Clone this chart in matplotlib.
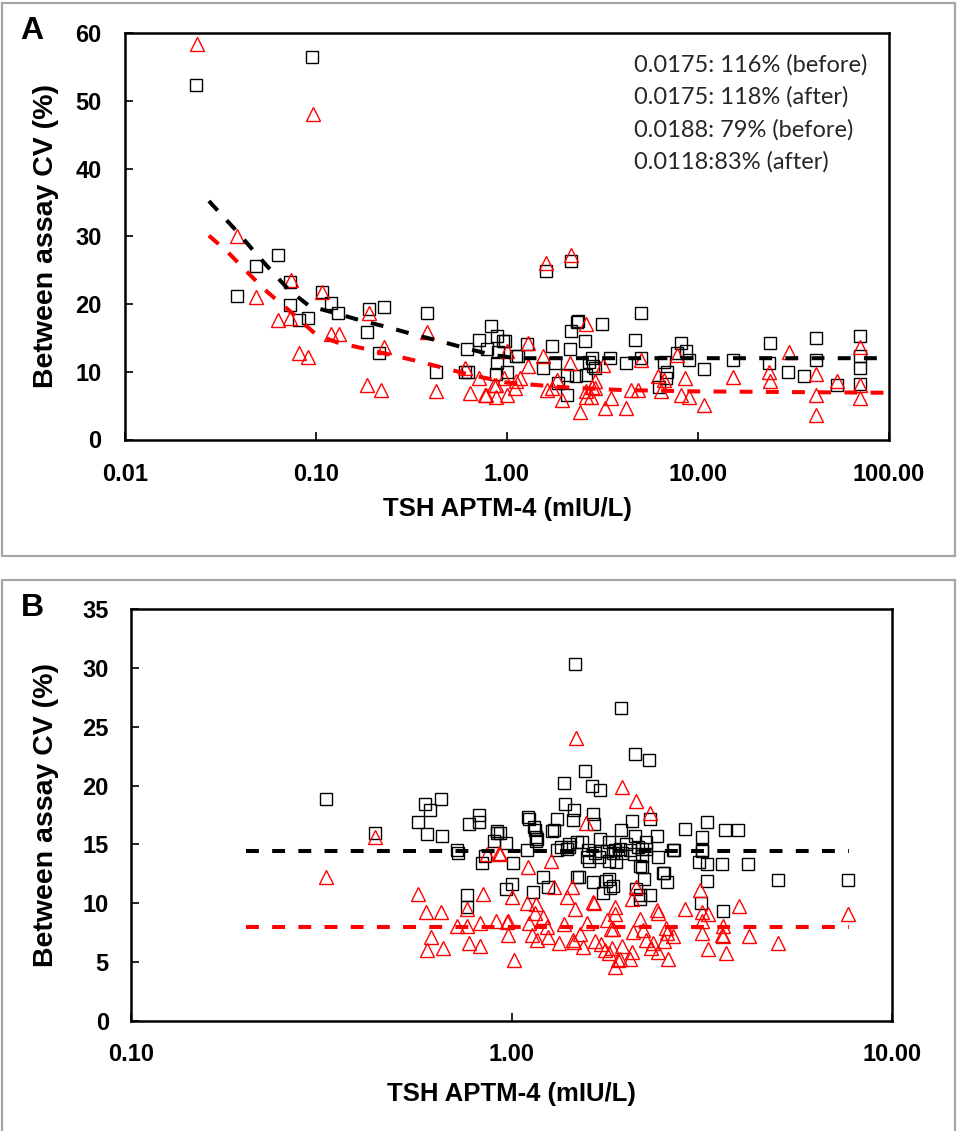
import numpy as np
import matplotlib
matplotlib.use("Agg")
import matplotlib.pyplot as plt
from matplotlib.patches import Rectangle

plt.rcParams['font.family'] = ['Liberation Sans', 'DejaVu Sans']

# ---- panel A data (before = black squares, after = red triangles) ----
a_before_x = [0.0235, 0.095, 0.0387, 0.0487, 0.063, 0.073, 0.073, 0.0815, 0.0906, 0.107,
              0.12, 0.13, 0.19, 0.226, 0.184, 0.215, 0.382, 0.426, 0.604, 0.628,
              0.617, 0.71, 0.783, 0.822, 0.891, 0.958, 0.883, 0.996, 0.877, 0.90,
              1.146, 1.267, 1.545, 1.71, 1.78, 2.13, 2.17, 2.32, 2.36, 2.55,
              2.05, 2.31, 2.6, 2.7, 2.82, 1.85, 2.05, 1.6, 2.17, 3.14,
              5.03, 4.68, 8.13, 8.63, 7.8, 3.47, 4.2, 5.03, 6.65, 10.7,
              2.8, 2.88, 6.92, 6.8, 6.27, 8.97, 15.3, 23.9, 23.4, 29.5,
              36.0, 41.5, 41.5, 53.2, 70.3, 70.3, 70.3, 70.7, 1.12, 0.98]
a_before_y = [52.3, 56.5, 21.2, 25.6, 27.3, 23.2, 19.9, 17.6, 18.0, 21.7,
              20.2, 18.6, 19.3, 19.5, 15.9, 12.7, 18.6, 10.0, 10.0, 10.0,
              13.3, 14.7, 13.3, 16.8, 15.3, 14.5, 11.3, 10.0, 9.6, 12.9,
              12.3, 14.1, 10.5, 13.75, 11.3, 13.3, 16.0, 17.3, 17.5, 14.5,
              9.55, 9.3, 9.55, 11.5, 10.8, 8.3, 6.6, 24.8, 26.3, 17.1,
              18.7, 14.7, 14.3, 13.0, 12.8, 12.0, 11.3, 12.0, 11.5, 10.4,
              12.0, 10.5, 10.0, 9.1, 7.8, 11.8, 11.8, 14.3, 11.3, 10.0,
              9.3, 15.0, 11.7, 8.1, 15.3, 12.3, 10.5, 8.2, 12.3, 14.6]

a_after_x = [0.0237, 0.096, 0.0388, 0.0487, 0.074, 0.063, 0.073, 0.0815, 0.0906, 0.108,
             0.12, 0.132, 0.19, 0.226, 0.186, 0.218, 0.382, 0.427, 0.604, 0.71,
             0.64, 0.78, 0.88, 1.0, 0.88, 1.12, 1.1, 1.29, 1.0, 1.29,
             1.17, 0.96, 0.85, 0.767, 1.545, 1.61, 1.71, 1.82, 1.93, 2.4,
             2.6, 2.6, 2.8, 1.6, 2.17, 5.03, 7.8, 8.6, 6.65, 6.2,
             4.83, 4.47, 3.51, 3.24, 4.2, 6.38, 8.13, 8.97, 10.7, 2.88,
             2.75, 2.88, 15.3, 29.8, 23.4, 23.9, 41.5, 41.5, 41.5, 53.2,
             70.3, 70.7, 70.7, 2.15, 3.2, 2.6]
a_after_y = [58.4, 48.0, 30.0, 21.1, 23.6, 17.7, 18.0, 12.8, 12.2, 21.7,
             15.6, 15.6, 18.7, 13.6, 8.1, 7.3, 15.8, 7.2, 10.5, 9.1,
             6.9, 6.6, 6.3, 6.6, 8.0, 8.6, 7.6, 14.25, 13.0, 10.8,
             9.1, 9.1, 8.1, 6.6, 12.3, 7.3, 7.6, 8.8, 5.85, 4.1,
             17.0, 6.3, 7.8, 26.1, 27.3, 11.8, 12.5, 9.1, 8.8, 9.3,
             7.3, 7.3, 6.1, 4.6, 4.6, 7.1, 6.6, 6.3, 5.1, 8.6,
             6.3, 7.6, 9.2, 12.9, 10.0, 8.6, 9.6, 6.6, 3.6, 8.6,
             13.7, 8.0, 6.1, 11.3, 11.0, 7.1]

# fitted trend lines
a_fit_before_x = [0.0275, 0.0383, 0.0473, 0.0583, 0.0726, 0.0923, 0.1245, 0.175, 0.236,
                  0.325, 0.448, 0.604, 0.832, 1.12, 96.4]
a_fit_before_y = [35.2, 30.8, 27.8, 24.9, 22.0, 19.7, 18.7, 17.5, 16.6,
                  15.5, 14.5, 13.5, 12.5, 12.0, 12.0]
a_fit_after_x = [0.0275, 0.0347, 0.044, 0.056, 0.0713, 0.1, 0.13, 0.186, 0.246,
                 0.325, 0.475, 0.63, 1.0, 2.0, 4.0, 10.0, 96.4]
a_fit_after_y = [30.1, 27.6, 24.6, 21.7, 19.2, 15.5, 14.3, 13.3, 12.5,
                 11.7, 10.5, 9.6, 8.4, 7.7, 7.3, 7.1, 6.9]

a_notes = ["0.0175: 116% (before)", "0.0175: 118% (after)",
           "0.0188: 79% (before)", "0.0118:83% (after)"]

# ---- panel B data ----
b_before_x = [0.325, 0.438, 0.594, 0.652, 0.611, 0.567, 0.598, 0.656, 0.717, 0.725,
              0.772, 0.823, 0.823, 0.914, 0.9, 0.97, 0.835, 0.85, 1.01, 1.0,
              0.97, 0.762, 0.762, 1.47, 1.94, 2.11, 2.3, 1.56, 1.37, 1.63,
              1.71, 1.38, 1.46, 1.45, 1.32, 1.106, 1.11, 1.148, 1.16, 1.16,
              1.28, 1.64, 1.65, 2.31, 2.07, 1.94, 2.11, 2.41, 2.85, 3.27,
              3.65, 3.94, 3.17, 0.93, 1.1, 1.396, 1.42, 1.53, 1.71, 1.80,
              1.87, 1.576, 1.6, 1.7, 1.72, 1.21, 1.49, 1.635, 1.80, 1.85,
              1.74, 1.245, 1.14, 3.11, 3.27, 3.57, 4.19, 3.17, 2.65, 3.27,
              5.02, 7.67, 3.15, 3.59, 2.5, 2.56, 2.23, 2.18, 2.13, 2.18,
              2.18, 2.31, 2.42, 2.05, 2.1, 2.15, 2.2, 2.25, 2.0, 1.95,
              1.15, 1.29, 1.17, 0.918, 1.32, 1.35, 1.42, 1.49, 1.59, 1.66,
              1.5, 1.81, 1.93, 1.85, 1.78, 1.88, 1.80, 1.77, 2.26, 2.2,
              2.2, 2.52, 2.67, 3.16]
b_before_y = [18.9, 16.0, 18.4, 18.9, 17.9, 16.9, 15.9, 15.7, 14.5, 14.3,
              16.75, 17.5, 16.9, 16.1, 15.25, 15.1, 13.4, 14.0, 13.4, 11.6,
              11.25, 10.7, 9.7, 30.3, 26.6, 22.7, 22.2, 21.2, 20.2, 20.0,
              19.6, 18.4, 17.9, 17.1, 17.2, 17.3, 17.2, 16.5, 15.6, 15.3,
              16.1, 17.6, 16.75, 17.2, 17.0, 16.2, 15.7, 15.7, 16.3, 16.9,
              16.2, 16.2, 15.6, 16.0, 14.5, 14.6, 15.0, 15.2, 15.5, 15.2,
              14.5, 13.9, 13.6, 13.9, 14.4, 12.2, 12.2, 11.8, 12.1, 11.5,
              10.9, 11.4, 10.96, 13.5, 13.3, 13.3, 13.3, 14.4, 14.5, 11.9,
              12.0, 12.0, 10.0, 9.35, 12.6, 11.8, 12.1, 13.2, 11.25, 10.7,
              10.4, 10.7, 13.9, 14.5, 14.2, 14.8, 14.0, 14.6, 15.0, 14.3,
              16.2, 16.2, 15.5, 16.0, 14.5, 14.8, 14.8, 15.2, 14.5, 14.3,
              12.2, 11.3, 14.6, 14.3, 14.4, 13.5, 13.6, 11.9, 15.2, 14.6,
              13.1, 12.6, 14.5, 14.5]

b_after_x = [0.325, 0.438, 0.569, 0.596, 0.653, 0.614, 0.598, 0.659, 0.84, 0.721,
             0.762, 0.762, 0.826, 0.773, 0.826, 0.909, 0.98, 0.98, 1.017, 0.86,
             0.925, 1.48, 1.95, 2.12, 2.31, 1.57, 1.0, 1.1, 1.16, 1.15,
             1.21, 1.296, 1.396, 1.44, 1.47, 1.65, 1.58, 1.37, 1.25, 1.33,
             1.17, 1.13, 0.975, 1.51, 1.46, 1.54, 1.66, 1.72, 1.76, 1.80,
             1.84, 1.87, 1.93, 1.78, 1.87, 1.85, 1.87, 1.95, 2.07, 2.05,
             2.09, 2.18, 2.13, 2.07, 2.22, 2.26, 2.33, 2.41, 2.43, 2.51,
             2.58, 2.66, 2.55, 2.86, 3.13, 3.16, 3.16, 3.17, 3.29, 3.28,
             3.59, 3.59, 3.66, 3.95, 4.22, 5.02, 7.67, 1.27, 1.106, 0.93,
             1.64, 1.24, 1.11, 1.45, 1.9, 2.35, 2.56, 2.43, 3.57, 1.83]
b_after_y = [12.2, 15.6, 10.8, 9.3, 9.3, 7.1, 6.0, 6.2, 10.8, 8.1,
             8.1, 9.5, 8.3, 6.6, 6.4, 8.5, 8.5, 7.3, 5.2, 14.2,
             14.3, 24.0, 19.9, 18.7, 17.7, 16.8, 10.5, 10.0, 9.9, 9.2,
             8.8, 11.4, 10.5, 11.4, 9.55, 10.0, 8.3, 8.2, 7.1, 6.6,
             6.9, 7.3, 8.4, 7.35, 6.7, 6.3, 6.8, 6.5, 6.0, 5.8,
             6.2, 4.6, 5.3, 8.6, 9.7, 7.85, 9.1, 6.4, 5.9, 5.3,
             7.6, 8.7, 11.4, 10.4, 7.7, 6.9, 6.2, 9.4, 5.9, 6.8,
             5.3, 7.2, 7.9, 9.55, 11.1, 9.3, 8.5, 7.5, 9.1, 6.1,
             8.1, 7.2, 5.8, 9.75, 7.2, 6.6, 9.1, 13.6, 13.1, 14.2,
             10.1, 8.0, 8.3, 6.9, 5.2, 6.6, 7.5, 9.2, 7.3, 7.8]

b_line_x = [0.2, 7.7]
b_line_before = [14.4, 14.4]
b_line_after = [8.0, 8.0]

W, H = 958, 1131
fig = plt.figure(figsize=(W / 100, H / 100), dpi=100)


def px_axes(l, t, r, b):
    return fig.add_axes([l / W, 1 - b / H, (r - l) / W, (b - t) / H])


def style(ax, xticks, xlabels, ymax, ystep, ypad):
    ax.set_xscale('log')
    ax.set_xticks(xticks)
    ax.set_xticklabels(xlabels)
    ax.xaxis.set_minor_locator(matplotlib.ticker.NullLocator())
    ax.set_xlim(xticks[0], xticks[-1])
    ax.set_ylim(0, ymax)
    ax.set_yticks(np.arange(0, ymax + 1, ystep))
    for s in ax.spines.values():
        s.set_linewidth(1.8)
    ax.tick_params(axis='both', direction='in', length=6, width=1.2,
                   labelsize=17, pad=ypad)
    for lab in ax.get_xticklabels() + ax.get_yticklabels():
        lab.set_fontweight('bold')
    ax.set_xlabel('TSH APTM-4 (mIU/L)', fontsize=18.5, fontweight='bold')
    ax.set_ylabel('Between assay CV (%)', fontsize=20.5, fontweight='bold')


def scatter(ax, bx, by, ax_x, ay):
    ax.plot(bx, by, 's', ms=8, mfc='none', mec='black', mew=1.0, zorder=3)
    ax.plot(ax_x, ay, '^', ms=9.5, mfc='none', mec='red', mew=1.0, zorder=3)


dash = (0, (3.2, 3.3))

# panel A
axA = px_axes(125, 33, 889, 439.5)
scatter(axA, a_before_x, a_before_y, a_after_x, a_after_y)
axA.plot(a_fit_before_x, a_fit_before_y, color='black', lw=2.9, ls=dash, zorder=4)
axA.plot(a_fit_after_x, a_fit_after_y, color='red', lw=2.9, ls=dash, zorder=4)
style(axA, [0.01, 0.1, 1, 10, 100], ['0.01', '0.10', '1.00', '10.00', '100.00'], 60, 10, 17)
axA.xaxis.set_label_coords(0.5, -0.172)
axA.yaxis.set_label_coords(-0.104, 0.5)
axA.xaxis.label.set_va('center')
axA.yaxis.label.set_va('center')
for i, t in enumerate(a_notes):
    axA.text(0.666, 0.922 - i * 0.08, t, transform=axA.transAxes, fontsize=17,
             family=['Lato', 'DejaVu Sans'], color='#262626', va='center', ha='left')

# panel B
axB = px_axes(131, 609, 892, 1021)
scatter(axB, b_before_x, b_before_y, b_after_x, b_after_y)
axB.plot(b_line_x, b_line_before, color='black', lw=2.9, ls=dash, zorder=4)
axB.plot(b_line_x, b_line_after, color='red', lw=2.9, ls=dash, zorder=4)
style(axB, [0.1, 1, 10], ['0.10', '1.00', '10.00'], 35, 5, 16)
axB.xaxis.set_label_coords(0.5, -0.178)
axB.yaxis.set_label_coords(-0.112, 0.5)
axB.xaxis.label.set_va('center')
axB.yaxis.label.set_va('center')

# panel frames and letters
for top, bot in [(3, 556), (580, 1135)]:
    fig.patches.append(Rectangle((1.5 / W, 1 - bot / H), (955 - 1.5) / W, (bot - top) / H,
                                 transform=fig.transFigure, fill=False,
                                 edgecolor='#a6a6a6', lw=1.6))
fig.text(32 / W, 1 - 31 / H, 'A', fontsize=23, fontweight='bold', ha='center', va='center')
fig.text(32 / W, 1 - 608 / H, 'B', fontsize=23, fontweight='bold', ha='center', va='center')

fig.savefig('out.png', dpi=100)
